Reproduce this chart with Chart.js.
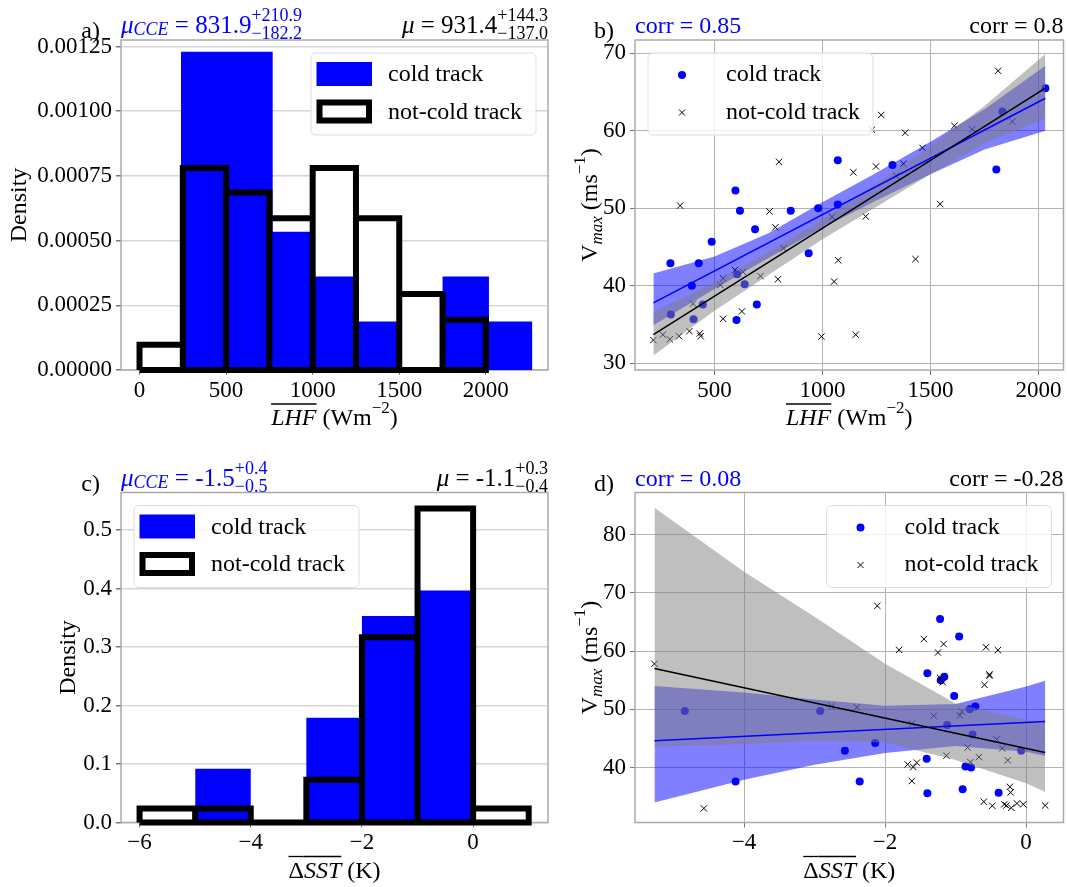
<!DOCTYPE html>
<html>
<head>
<meta charset="utf-8">
<script src="https://cdn.jsdelivr.net/npm/chart.js@4.4.1/dist/chart.umd.min.js"></script>
<style>
  html, body { margin: 0; padding: 0; background: #fff; }
  #fig { position: relative; width: 1067px; height: 887px; }
  #fig canvas { position: absolute; }
</style>
</head>
<body>
<div id="fig">
  <canvas id="pa" width="560" height="440" style="left:0;top:0"></canvas>
  <canvas id="pb" width="507" height="440" style="left:560px;top:0"></canvas>
  <canvas id="pc" width="560" height="447" style="left:0;top:440px"></canvas>
  <canvas id="pd" width="507" height="447" style="left:560px;top:440px"></canvas>
</div>
<script>
// ---- a) LHF histograms (density) ----
const lhfEdgesNotCold = [0, 250, 500, 750, 1000, 1250, 1500, 1750, 2000];
const lhfDensNotCold = [0.0000976, 0.00078, 0.000686, 0.000586, 0.00078, 0.000586, 0.000294, 0.000194];
const lhfEdgesCold = [239, 769, 1000, 1250, 1500, 1750, 2018, 2269];
const lhfDensCold = [0.00123, 0.000534, 0.000361, 0.000187, 0, 0.000361, 0.000187];

// ---- c) delta SST histograms (density) ----
const sstEdgesNotCold = [-6, -5, -4, -3, -2, -1, 0, 1];
const sstDensNotCold = [0.024, 0.024, 0, 0.0732, 0.317, 0.537, 0.024];
const sstEdgesCold = [-5, -4, -3, -2, -1, 0];
const sstDensCold = [0.092, 0, 0.179, 0.353, 0.397];

// ---- storms: cold track ----
const vmaxCold = [35.6, 35.7, 36.3, 37.6, 37.6, 40.0, 40.2, 41.5, 42.9, 42.9, 44.2, 45.7, 47.3, 49.7, 49.7, 50.0, 50.5, 52.3, 55.0, 55.6, 56.2, 62.5, 65.5];
const lhfCold = [602, 403, 298, 446, 696, 395, 640, 605, 296, 427, 936, 487, 688, 618, 853, 980, 1071, 597, 1805, 1324, 1071, 1833, 2032];
const sstCold = [-1.40, -0.39, -0.90, -4.12, -2.36, -0.78, -0.86, -1.41, -2.57, -0.07, -2.14, -0.76, -1.12, -4.84, -2.92, -0.80, -0.72, -1.02, -1.21, -1.16, -1.40, -0.95, -1.22];

// ---- storms: not-cold track ----
const vmaxNotCold = [33.0, 33.1, 33.45, 33.5, 33.5, 33.7, 33.7, 33.85, 34.15, 35.75, 36.7, 37.7, 40.1, 40.55, 40.85, 40.95, 41.25, 41.8, 42.05, 43.3, 43.45, 44.85, 47.55, 48.9, 48.95, 49.6, 50.35, 50.55, 54.2, 54.65, 55.4, 55.75, 56.0, 57.8, 59.75, 60.15, 60.2, 60.65, 61.2, 62.05, 67.75];
const lhfNotCold = [217, 293, 995, 336, 436, 261, 1154, 432, 384, 540, 627, 401, 527, 1054, 794, 540, 713, 632, 595, 1073, 1431, 820, 782, 1044, 1200, 755, 341, 1545, 1340, 1143, 1248, 1375, 799, 1463, 1383, 1229, 1693, 1611, 1879, 1272, 1813];
const sstNotCold = [-4.57, -0.21, -0.48, -0.28, 0.27, -0.31, -0.04, -0.13, -0.60, -0.22, -0.23, -1.62, -1.60, -1.68, -1.55, -0.79, -0.26, -0.67, -1.13, -0.34, -0.83, -0.42, -1.62, -1.31, -0.94, -0.91, -2.40, -2.76, -0.59, -1.18, -1.22, -0.52, -0.52, -5.27, -1.25, -0.40, -1.80, -0.57, -1.17, -1.45, -2.11];

// ---- b) regression lines and confidence bands ----
const lineLhf = [217, 2032];
const coldLineLhf = [37.8, 64.2];
const notColdLineLhf = [33.7, 65.5];
const bandLhf = [217, 500, 750, 1000, 1250, 1500, 1750, 2032];
const coldUpperLhf = [41.6, 43.8, 46.8, 50.8, 54.6, 58.6, 62.8, 68.4];
const coldLowerLhf = [34.9, 39.6, 43.6, 47.5, 51.0, 54.4, 57.6, 60.0];
const notColdUpperLhf = [36.6, 40.5, 44.4, 48.6, 53.2, 58.0, 63.2, 69.9];
const notColdLowerLhf = [31.0, 36.8, 41.4, 46.0, 50.2, 54.4, 58.4, 61.6];

// ---- d) regression lines and confidence bands ----
const lineSst = [-5.27, 0.27];
const coldLineSst = [44.6, 47.9];
const notColdLineSst = [57.0, 42.6];
const bandSst = [-5.27, -4, -3, -2, -1, 0, 0.27];
const coldUpperSst = [54.0, 52.9, 51.7, 50.6, 50.9, 53.9, 54.9];
const coldLowerSst = [34.0, 37.9, 40.5, 42.5, 43.7, 42.7, 42.0];
const notColdUpperSst = [84.6, 73.6, 65.9, 57.8, 51.0, 48.2, 47.6];
const notColdLowerSst = [43.6, 44.0, 44.6, 44.3, 41.3, 37.3, 35.8];

// ---- tick values ----
const lhfTicksA = [0, 500, 1000, 1500, 2000];
const lhfTicksB = [500, 1000, 1500, 2000];
const densTicksA = [0, 0.00025, 0.0005, 0.00075, 0.001, 0.00125];
const sstTicksC = [-6, -4, -2, 0];
const sstTicksD = [-4, -2, 0];
const densTicksC = [0, 0.1, 0.2, 0.3, 0.4, 0.5];
const vmaxTicksB = [30, 40, 50, 60, 70];
const vmaxTicksD = [40, 50, 60, 70, 80];

const SERIF = '"Liberation Serif", "Times New Roman", serif';
const BLUE = '#0000ff';
const SPINE = '#aaaaaa';
const TICK = '#777777';

const pts = (xs, ys) => xs.map((x, i) => ({ x, y: ys[i] }));
const minus = v => (v < 0 ? '\u2212' + Math.abs(v) : String(v));

// one polygon along the bar tops (for the fills)
function histArea(edges, dens) {
  const out = [{ x: edges[0], y: 0 }];
  dens.forEach((d, i) => out.push({ x: edges[i], y: d }, { x: edges[i + 1], y: d }));
  out.push({ x: edges[edges.length - 1], y: 0 });
  return out;
}
// every bar outlined on its own, then back along the baseline
function histEdges(edges, dens) {
  const out = [];
  dens.forEach((d, i) => out.push({ x: edges[i], y: 0 }, { x: edges[i], y: d }, { x: edges[i + 1], y: d }, { x: edges[i + 1], y: 0 }));
  out.push({ x: edges[0], y: 0 });
  return out;
}

// ---- rich text (sub/superscripts, overlines) ----
function partFont(p) { return (p.it ? 'italic ' : '') + p.s + 'px ' + SERIF; }
function isScript(p) { return 'sup' in p || 'sub' in p; }
function partWidth(ctx, p) {
  ctx.font = partFont(p);
  if (isScript(p)) return Math.max(ctx.measureText(p.sup || '').width, ctx.measureText(p.sub || '').width);
  return ctx.measureText(p.t).width;
}
function drawRich(ctx, parts, x, y, align, color) {
  const total = parts.reduce((w, p) => w + partWidth(ctx, p), 0);
  let cx = align === 'right' ? x - total : align === 'center' ? x - total / 2 : x;
  ctx.fillStyle = color;
  ctx.strokeStyle = color;
  ctx.textAlign = 'left';
  ctx.textBaseline = 'alphabetic';
  parts.forEach(p => {
    const w = partWidth(ctx, p);
    if (isScript(p)) {
      if (p.sup) ctx.fillText(p.sup, cx, y - 12);
      if (p.sub) ctx.fillText(p.sub, cx, y + 6);
    } else {
      ctx.fillText(p.t, cx, y + (p.dy || 0));
      if (p.ol) {
        ctx.lineWidth = 1.3;
        ctx.beginPath();
        ctx.moveTo(cx, y - p.ol);
        ctx.lineTo(cx + w, y - p.ol);
        ctx.stroke();
      }
    }
    cx += w;
  });
}

const mu = { t: '\u03bc', it: true, s: 25 };
const cce = { t: 'CCE', it: true, s: 18, dy: 2 };
const lhfLabel = [{ t: 'LHF', it: true, s: 24, ol: 21 }, { t: ' (Wm', s: 24 }, { sup: '\u22122', s: 17 }, { t: ')', s: 24 }];
const sstLabel = [{ t: '\u0394', s: 24, ol: 21 }, { t: 'SST', it: true, s: 24, ol: 21 }, { t: ' (K)', s: 24 }];
const vmaxLabel = [{ t: 'V', s: 24 }, { t: 'max', it: true, s: 17, dy: 5 }, { t: ' (ms', s: 24 }, { sup: '\u22121', s: 17 }, { t: ')', s: 24 }];
const densLabel = [{ t: 'Density', s: 24 }];
const histRows = [{ kind: 'patch', label: 'cold track' }, { kind: 'outline', label: 'not-cold track' }];
const dotRows = [{ kind: 'dot', label: 'cold track' }, { kind: 'cross', label: 'not-cold track' }];

const decor = {
  pa: {
    tag: 'a)',
    left: [mu, cce, { t: ' = 831.9', s: 25 }, { sup: '+210.9', sub: '\u2212182.2', s: 18 }],
    right: [mu, { t: ' = 931.4', s: 25 }, { sup: '+144.3', sub: '\u2212137.0', s: 18 }],
    xlabel: lhfLabel, ylabel: densLabel, ylabelX: 26,
    legend: { side: 'right', rows: histRows }
  },
  pb: {
    tag: 'b)',
    left: [{ t: 'corr = 0.85', s: 24 }], right: [{ t: 'corr = 0.8', s: 24 }],
    xlabel: lhfLabel, ylabel: vmaxLabel, ylabelX: 37,
    legend: { side: 'left', rows: dotRows }
  },
  pc: {
    tag: 'c)',
    left: [mu, cce, { t: ' = -1.5', s: 25 }, { sup: '+0.4', sub: '\u22120.5', s: 18 }],
    right: [mu, { t: ' = -1.1', s: 25 }, { sup: '+0.3', sub: '\u22120.4', s: 18 }],
    xlabel: sstLabel, ylabel: densLabel, ylabelX: 75,
    legend: { side: 'left', rows: histRows }
  },
  pd: {
    tag: 'd)',
    left: [{ t: 'corr = 0.08', s: 24 }], right: [{ t: 'corr = -0.28', s: 24 }],
    xlabel: sstLabel, ylabel: vmaxLabel, ylabelX: 37,
    legend: { side: 'right', rows: dotRows }
  }
};

function drawLegend(ctx, lg, area) {
  const w = 225, h = 82;
  const x = lg.side === 'left' ? area.left + 13 : area.right - 12 - w;
  const y = area.top + 13;
  ctx.save();
  ctx.beginPath();
  ctx.roundRect(x, y, w, h, 5);
  ctx.fillStyle = 'rgba(255,255,255,0.8)';
  ctx.fill();
  ctx.lineWidth = 1;
  ctx.strokeStyle = '#dddddd';
  ctx.stroke();
  lg.rows.forEach((r, i) => {
    const cy = y + 21 + i * 37.5;
    if (r.kind === 'patch') {
      ctx.fillStyle = BLUE;
      ctx.fillRect(x + 5.5, cy - 12, 55.5, 24);
    } else if (r.kind === 'outline') {
      ctx.fillStyle = '#fff';
      ctx.strokeStyle = '#000';
      ctx.lineWidth = 6;
      ctx.lineJoin = 'miter';
      ctx.fillRect(x + 8.5, cy - 9, 49.5, 18);
      ctx.strokeRect(x + 8.5, cy - 9, 49.5, 18);
    } else if (r.kind === 'dot') {
      ctx.fillStyle = BLUE;
      ctx.beginPath();
      ctx.arc(x + 34, cy + 1, 4, 0, Math.PI * 2);
      ctx.fill();
    } else {
      ctx.strokeStyle = '#000';
      ctx.lineWidth = 1;
      ctx.beginPath();
      ctx.moveTo(x + 31, cy - 2); ctx.lineTo(x + 37, cy + 4);
      ctx.moveTo(x + 37, cy - 2); ctx.lineTo(x + 31, cy + 4);
      ctx.stroke();
    }
    const tx = r.kind === 'patch' || r.kind === 'outline' ? x + 77 : x + 78;
    drawRich(ctx, [{ t: r.label, s: 24 }], tx, y + 28 + i * 37.5, 'left', '#000');
  });
  ctx.restore();
}

const panelDecor = {
  id: 'panelDecor',
  beforeDatasetsDraw(chart) {
    const { ctx, chartArea: a } = chart;
    ctx.save();
    ctx.strokeStyle = SPINE;
    ctx.lineWidth = 1.5;
    ctx.strokeRect(a.left, a.top, a.right - a.left, a.bottom - a.top);
    ctx.restore();
  },
  afterDraw(chart) {
    const d = decor[chart.canvas.id];
    const { ctx, chartArea: a } = chart;
    ctx.save();
    drawRich(ctx, [{ t: d.tag, s: 24 }], a.left - 21, a.top - 2, 'right', '#000');
    drawRich(ctx, d.left, a.left, a.top - 7, 'left', BLUE);
    drawRich(ctx, d.right, a.right, a.top - 7, 'right', '#000');
    drawRich(ctx, d.xlabel, (a.left + a.right) / 2, a.bottom + 55, 'center', '#000');
    ctx.translate(d.ylabelX, (a.top + a.bottom) / 2);
    ctx.rotate(-Math.PI / 2);
    drawRich(ctx, d.ylabel, 0, 0, 'center', '#000');
    ctx.restore();
    drawLegend(ctx, d.legend, a);
  }
};

function tickFont() { return { family: SERIF, size: 23 }; }

function baseOptions(canvas, box, x, y, xGrid, yGridColor, yGridWidth) {
  const W = canvas.width, H = canvas.height;
  return {
    responsive: false,
    animation: false,
    events: [],
    layout: { padding: { left: 0, top: box.t, right: W - box.r, bottom: 0 }, autoPadding: false },
    plugins: { legend: { display: false }, tooltip: { enabled: false } },
    scales: {
      x: {
        type: 'linear', position: 'bottom', min: x.min, max: x.max,
        border: { display: false },
        grid: xGrid ? { color: '#b3b3b3', lineWidth: 1, tickLength: 5, tickColor: TICK }
                    : { drawOnChartArea: false, tickLength: 5, tickColor: TICK },
        ticks: { autoSkip: false, maxRotation: 0, padding: 2, color: '#000', font: tickFont(), callback: x.fmt },
        afterBuildTicks: s => { s.ticks = x.ticks.map(v => ({ value: v })); },
        afterFit: s => { s.height = H - box.b; }
      },
      y: {
        type: 'linear', position: 'left', min: y.min, max: y.max,
        border: { display: false },
        grid: { color: yGridColor, lineWidth: yGridWidth, tickLength: 5, tickColor: TICK },
        ticks: { autoSkip: false, padding: 4, color: '#000', font: tickFont(), callback: y.fmt },
        afterBuildTicks: s => { s.ticks = y.ticks.map(v => ({ value: v })); },
        afterFit: s => { s.width = box.l; }
      }
    }
  };
}

function histPanel(id, box, x, y, edgesCold, densCold, edgesNot, densNot) {
  const canvas = document.getElementById(id);
  new Chart(canvas, {
    type: 'scatter',
    data: {
      datasets: [
        { type: 'line', label: 'not-cold track', data: histEdges(edgesNot, densNot), borderColor: '#000', borderWidth: 6,
          borderJoinStyle: 'miter', pointRadius: 0, fill: false, tension: 0, clip: false, order: 1 },
        { type: 'line', label: 'cold track', data: histArea(edgesCold, densCold), borderColor: 'rgba(0,0,0,0)', borderWidth: 0,
          backgroundColor: BLUE, pointRadius: 0, fill: 'origin', tension: 0, order: 2 },
        { type: 'line', label: 'not-cold fill', data: histArea(edgesNot, densNot), borderColor: 'rgba(0,0,0,0)', borderWidth: 0,
          backgroundColor: '#ffffff', pointRadius: 0, fill: 'origin', tension: 0, order: 3 }
      ]
    },
    options: baseOptions(canvas, box, x, y, false, '#d6d6d6', 1.5),
    plugins: [panelDecor]
  });
}

function scatterPanel(id, box, x, y, p) {
  const canvas = document.getElementById(id);
  const band = (xs, ys, color, fill, order) => ({
    type: 'line', data: pts(xs, ys), borderColor: 'rgba(0,0,0,0)', borderWidth: 0, backgroundColor: color,
    pointRadius: 0, fill, tension: 0, order
  });
  new Chart(canvas, {
    type: 'scatter',
    data: {
      datasets: [
        { type: 'line', label: 'not-cold fit', data: pts(p.lineX, p.notLine), borderColor: '#000', borderWidth: 1.5,
          pointRadius: 0, fill: false, tension: 0, order: 1 },
        { type: 'line', label: 'cold fit', data: pts(p.lineX, p.coldLine), borderColor: BLUE, borderWidth: 1.5,
          pointRadius: 0, fill: false, tension: 0, order: 2 },
        band(p.bandX, p.notUp, 'rgba(128,128,128,0.5)', '+1', 3),
        band(p.bandX, p.notLow, 'rgba(0,0,0,0)', false, 4),
        band(p.bandX, p.coldUp, 'rgba(0,0,255,0.5)', '+1', 5),
        band(p.bandX, p.coldLow, 'rgba(0,0,0,0)', false, 6),
        { label: 'not-cold track', data: pts(p.notX, vmaxNotCold), pointStyle: 'crossRot', pointRadius: 4.5,
          pointBorderColor: '#000', pointBorderWidth: 1, pointBackgroundColor: '#000', order: 7 },
        { label: 'cold track', data: pts(p.coldX, vmaxCold), pointStyle: 'circle', pointRadius: 4,
          pointBorderWidth: 0, pointBackgroundColor: BLUE, pointBorderColor: BLUE, order: 8 }
      ]
    },
    options: baseOptions(canvas, box, x, y, true, '#b3b3b3', 1),
    plugins: [panelDecor]
  });
}

histPanel('pa', { l: 121, t: 40, r: 548, b: 370 },
  { min: -107, max: 2359, ticks: lhfTicksA, fmt: v => String(v) },
  { min: 0, max: 0.001275, ticks: densTicksA, fmt: v => v.toFixed(5) },
  lhfEdgesCold, lhfDensCold, lhfEdgesNotCold, lhfDensNotCold);

scatterPanel('pb', { l: 75, t: 40, r: 503.5, b: 370 },
  { min: 132, max: 2116, ticks: lhfTicksB, fmt: v => String(v) },
  { min: 29.14, max: 71.72, ticks: vmaxTicksB, fmt: v => String(v) },
  { lineX: lineLhf, coldLine: coldLineLhf, notLine: notColdLineLhf,
    bandX: bandLhf, coldUp: coldUpperLhf, coldLow: coldLowerLhf, notUp: notColdUpperLhf, notLow: notColdLowerLhf,
    coldX: lhfCold, notX: lhfNotCold });

histPanel('pc', { l: 121, t: 52.5, r: 548, b: 382.5 },
  { min: -6.334, max: 1.347, ticks: sstTicksC, fmt: minus },
  { min: 0, max: 0.5644, ticks: densTicksC, fmt: v => v.toFixed(1) },
  sstEdgesCold, sstDensCold, sstEdgesNotCold, sstDensNotCold);

scatterPanel('pd', { l: 75, t: 52.5, r: 503.5, b: 382.5 },
  { min: -5.546, max: 0.53, ticks: sstTicksD, fmt: minus },
  { min: 30.58, max: 87.2, ticks: vmaxTicksD, fmt: v => String(v) },
  { lineX: lineSst, coldLine: coldLineSst, notLine: notColdLineSst,
    bandX: bandSst, coldUp: coldUpperSst, coldLow: coldLowerSst, notUp: notColdUpperSst, notLow: notColdLowerSst,
    coldX: sstCold, notX: sstNotCold });
</script>
</body>
</html>
